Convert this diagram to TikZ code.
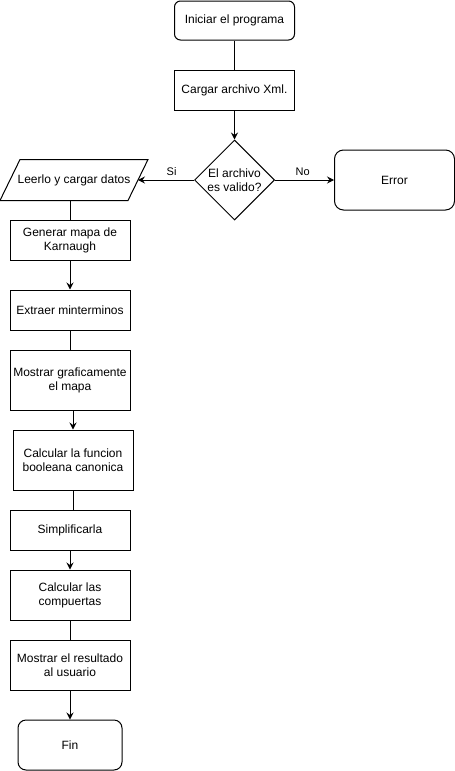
\documentclass[tikz,border=0pt]{standalone}
\usepackage{fontspec}
\setmainfont{Liberation Sans}
\usetikzlibrary{arrows.meta, shapes.geometric, calc}

\tikzset{
	box/.style={draw, rectangle, minimum width=120pt, minimum height=40pt, inner sep=0pt},
	endbox/.style={box, rounded corners=6pt},
	decision/.style={draw, diamond, minimum width=80pt, minimum height=80pt, inner sep=0pt},
	inputbox/.style={rectangle, minimum width=127pt, minimum height=40pt, inner sep=0pt},
	flow/.style={-{Stealth[length=7pt, width=7pt, inset=2.5pt]}},
	edgelabel/.style={font=\fontsize{11}{13}\selectfont}
}

\begin{document}
\begin{tikzpicture}[x=1pt, y=-1pt, line width=1pt,
	every node/.append style={font=\fontsize{12}{14}\selectfont, align=center}]

	\useasboundingbox (0,0) rectangle (455,771);

	\node[endbox, minimum height=39pt] (inicio) at (234.5,20.5) {Iniciar el programa};
	\node[box] (cargar) at (234.5,90) {Cargar archivo Xml.};
	\node[decision] (valido) at (234.5,180) {};
	\node (validotxt) at (valido) {El archivo\\es valido?};
	\node[inputbox] (leer) at (74,180) {Leerlo y cargar datos};
	\node[endbox, minimum height=60pt, rounded corners=9pt] (error) at (394.5,180) {Error};

	% parallelogram round the input node
	\draw ($(leer.north west)+(10,0)$) -- ($(leer.north east)+(10,0)$) -- ($(leer.south east)+(-10,0)$) -- ($(leer.south west)+(-10,0)$) -- cycle;

	\node[box] (generar) at (70,240) {Generar mapa de\\Karnaugh};
	\node[box] (extraer) at (70,310) {Extraer minterminos};
	\node[box, minimum height=60pt] (mostrar) at (70,380) {Mostrar graficamente\\el mapa};
	\node[box, minimum height=60pt] (funcion) at (73,460) {Calcular la funcion\\booleana canonica};
	\node[box] (simplificar) at (70,530) {Simplificarla};
	\node[box, minimum height=50pt] (compuertas) at (70,595) {Calcular las\\compuertas};
	\node[box, minimum height=50pt] (resultado) at (70,665) {Mostrar el resultado\\al usuario};
	\node[endbox, minimum width=104pt, minimum height=50pt, rounded corners=8pt] (fin) at (70,745) {Fin};

	\draw (inicio) -- (cargar);
	\draw[flow] (cargar) -- (valido);
	\draw[flow] (valido) -- (leer) node[edgelabel, pos=0.4, above=1pt] {Si};
	\draw[flow] (valido) -- (error) node[edgelabel, pos=0.47, above=1pt] {No};

	\draw (leer.south -| generar.north) -- (generar.north);
	\draw[flow] (generar) -- (extraer);
	\draw (extraer) -- (mostrar);
	\draw[flow] (funcion.north |- mostrar.south) -- (funcion.north);
	\draw (funcion.south) -- (funcion.south |- simplificar.north);
	\draw[flow] (simplificar) -- (compuertas);
	\draw (compuertas) -- (resultado);
	\draw[flow] (resultado) -- (fin);

\end{tikzpicture}
\end{document}
